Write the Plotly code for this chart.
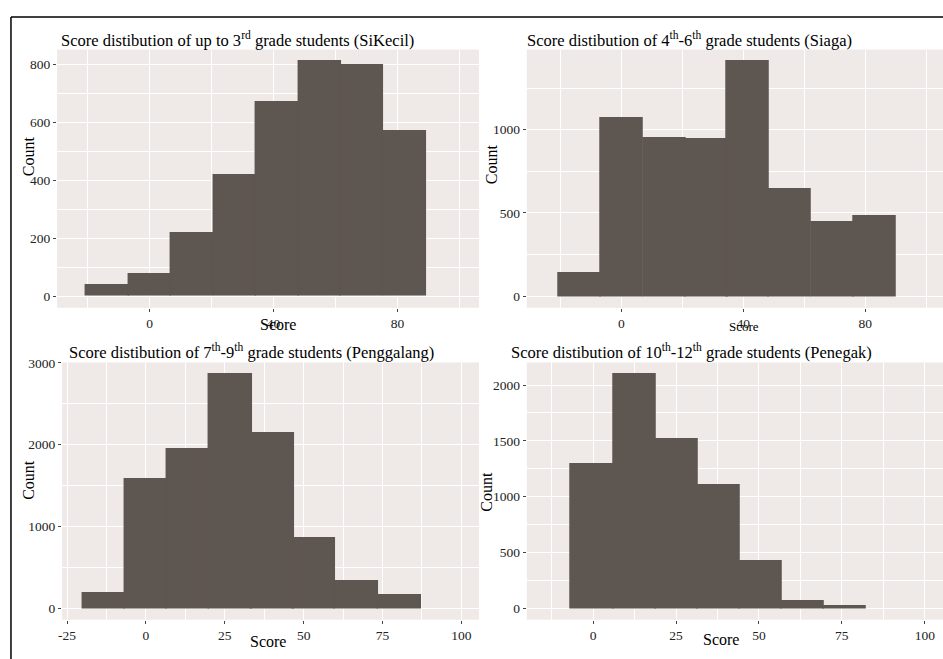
import plotly.graph_objects as go

W, H = 943, 659

# ---- data ----
p1_centers = [-13.65, 0.05, 13.75, 27.5, 41.25, 54.95, 68.65, 82.4]
p1_counts = [36, 73, 216, 416, 669, 809, 797, 569]
p1_width = 13.7

p2_centers = [-13.7, 0.2, 14.15, 28.0, 41.6, 55.35, 69.3, 83.2]
p2_counts = [133, 1065, 950, 944, 1409, 643, 440, 476]
p2_width = 13.85

p3_centers = [-13.3, 0.05, 13.45, 26.85, 40.15, 53.4, 66.8, 80.4]
p3_counts = [182, 1573, 1945, 2863, 2143, 857, 323, 150]
p3_width = 13.4

p4_centers = [-0.25, 12.5, 25.15, 37.8, 50.55, 63.35, 76.0]
p4_counts = [1289, 2098, 1511, 1096, 415, 59, 18]
p4_width = 12.7

titles = [
    "Score distibution of up to 3<sup>rd</sup> grade students (SiKecil)",
    "Score distibution of 4<sup>th</sup>-6<sup>th</sup> grade students (Siaga)",
    "Score distibution of 7<sup>th</sup>-9<sup>th</sup> grade students (Penggalang)",
    "Score distibution of 10<sup>th</sup>-12<sup>th</sup> grade students (Penegak)",
]

x_ticks_a = [0, 40, 80]
x_ticks_b = [-25, 0, 25, 50, 75, 100]
y_ticks = [[0, 200, 400, 600, 800], [0, 500, 1000], [0, 1000, 2000, 3000], [0, 500, 1000, 1500, 2000]]

# ---- layout geometry (pixels) ----
panels = [
    dict(x0=53.3, x1=477, y0=43, y1=304, xr=[-29.9, 106.3], yr=[-40.5, 850.5], xt=x_ticks_a, xdt=20),
    dict(x0=525, x1=943, y0=43, y1=304, xr=[-31, 105.5], yr=[-70, 1482], xt=x_ticks_a, xdt=20),
    dict(x0=58.3, x1=477, y0=359.3, y1=619.3, xr=[-26.6, 105.6], yr=[-143, 3006], xt=x_ticks_b, xdt=12.5),
    dict(x0=525, x1=943, y0=359.3, y1=619.3, xr=[-20, 105.5], yr=[-105, 2203], xt=x_ticks_b, xdt=12.5),
]
ydts = [100, 250, 500, 250]
data = [(p1_centers, p1_counts, p1_width), (p2_centers, p2_counts, p2_width),
        (p3_centers, p3_counts, p3_width), (p4_centers, p4_counts, p4_width)]

FONT = "Liberation Serif"
BG = "#EFEAE8"
BAR = "#5E5651"

fig = go.Figure()
layout = dict(
    width=W, height=H, margin=dict(l=0, r=0, t=0, b=0),
    paper_bgcolor="white", plot_bgcolor=BG, showlegend=False,
    bargap=0, font=dict(family=FONT, color="#222", size=13),
)

for i, (p, (cx, cy, w)) in enumerate(zip(panels, data)):
    n = i + 1
    xa = "x" if n == 1 else f"x{n}"
    ya = "y" if n == 1 else f"y{n}"
    fig.add_trace(go.Bar(x=cx, y=cy, width=w, marker=dict(color=BAR, line=dict(width=1.5, color=BAR)),
                         xaxis=xa, yaxis=ya, hoverinfo="x+y"))
    layout[f"xaxis{'' if n == 1 else n}"] = dict(
        domain=[p["x0"] / W, p["x1"] / W], range=p["xr"], anchor=ya,
        tickvals=p["xt"], ticktext=[str(v) for v in p["xt"]],
        ticks="outside", ticklen=3, tickcolor="#444", tickwidth=1,
        showgrid=True, gridcolor="white", gridwidth=1.2, zeroline=False,
        showline=False, tickfont=dict(family=FONT, size=13.5, color="#222"),
        minor=dict(dtick=p["xdt"], tick0=0, showgrid=True, gridcolor="white", gridwidth=0.6, ticks=""),
    )
    layout[f"yaxis{'' if n == 1 else n}"] = dict(
        domain=[1 - p["y1"] / H, 1 - p["y0"] / H], range=p["yr"], anchor=xa,
        tickvals=y_ticks[i], ticktext=[str(v) for v in y_ticks[i]],
        ticks="outside", ticklen=3, tickcolor="#444", tickwidth=1,
        showgrid=True, gridcolor="white", gridwidth=1.2, zeroline=False,
        showline=False, tickfont=dict(family=FONT, size=13.5, color="#222"),
        minor=dict(dtick=ydts[i], tick0=0, showgrid=True, gridcolor="white", gridwidth=0.6, ticks=""),
    )

annotations = []
title_pos = [(55, 33), (523, 33), (63, 348), (507, 348)]
for t, (tx, ty) in zip(titles, title_pos):
    annotations.append(dict(text=t, x=tx / W, y=1 - ty / H, xref="paper", yref="paper",
                            xanchor="left", yanchor="middle", showarrow=False,
                            font=dict(family=FONT, size=16.5, color="black")))
count_pos = [(25, 151), (489, 159), (25, 478), (485, 490)]
for cx_, cy_ in count_pos:
    annotations.append(dict(text="Count", x=cx_ / W, y=1 - cy_ / H, xref="paper", yref="paper",
                            xanchor="center", yanchor="middle", showarrow=False, textangle=-90,
                            font=dict(family=FONT, size=16, color="black")))
score_pos = [(275, 321, 16), (743, 323, 13), (265, 641, 16), (720, 639, 16)]
for sx, sy, fs in score_pos:
    annotations.append(dict(text="Score", x=sx / W, y=1 - sy / H, xref="paper", yref="paper",
                            xanchor="center", yanchor="middle", showarrow=False,
                            font=dict(family=FONT, size=fs, color="black")))
layout["annotations"] = annotations

layout["shapes"] = [
    dict(type="line", xref="paper", yref="paper", x0=7 / W, x1=7 / W, y0=1 - 10 / H, y1=0,
         line=dict(color="black", width=1.5)),
    dict(type="line", xref="paper", yref="paper", x0=7 / W, x1=1, y0=1 - 10 / H, y1=1 - 10 / H,
         line=dict(color="black", width=1.5)),
]

fig.update_layout(**layout)
fig.write_html(
    "out.html",
    config={"displayModeBar": False},
    post_script="document.body.style.margin='0';document.body.style.padding='0';"
                "document.documentElement.style.overflow='hidden';"
                "var d=document.getElementById('{plot_id}');"
                "d.style.position='fixed';d.style.left='0px';d.style.top='0px';",
)
